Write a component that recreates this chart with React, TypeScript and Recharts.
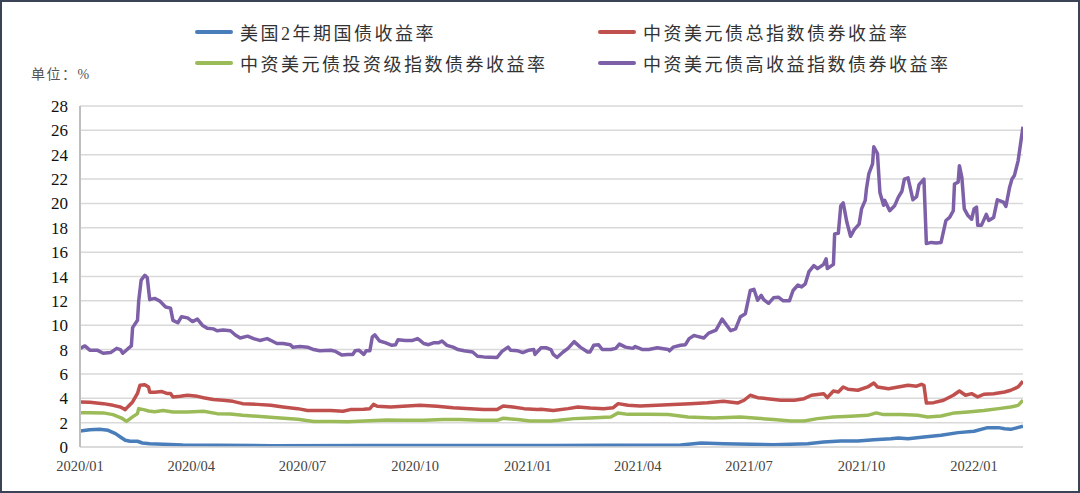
import React from 'react';
import { LineChart, Line, XAxis, YAxis, CartesianGrid } from 'recharts';

// x values are days since 2020-01-01
const quarterDays = [0, 91, 182, 274, 366, 456, 547, 639, 731];
const quarterLabels = ['2020/01', '2020/04', '2020/07', '2020/10', '2021/01', '2021/04', '2021/07', '2021/10', '2022/01'];
const yTicks = [0, 2, 4, 6, 8, 10, 12, 14, 16, 18, 20, 22, 24, 26, 28];

const seriesNames = [
  '美国2年期国债收益率',
  '中资美元债总指数债券收益率',
  '中资美元债投资级指数债券收益率',
  '中资美元债高收益指数债券收益率',
];
const COLORS = ['#4a7ebb', '#c0504d', '#9bbb59', '#7d60a8'];

const ust2y = [
  [0, 1.32], [8, 1.42], [16, 1.45], [23, 1.37], [29, 1.1], [33, 0.82], [37, 0.55], [41, 0.47],
  [47, 0.47], [51, 0.33], [57, 0.27], [68, 0.22], [84, 0.16], [112, 0.14], [156, 0.11], [237, 0.12],
  [319, 0.12], [385, 0.12], [431, 0.14], [491, 0.16], [508, 0.33], [526, 0.27], [567, 0.19],
  [595, 0.27], [608, 0.41], [622, 0.49], [636, 0.49], [649, 0.6], [663, 0.68], [669, 0.74],
  [677, 0.68], [690, 0.82], [704, 0.96], [718, 1.18], [731, 1.29], [742, 1.59], [751, 1.59],
  [756, 1.5], [761, 1.45], [771, 1.7],
];

const totalIdx = [
  [0, 3.7], [8, 3.67], [19, 3.56], [27, 3.42], [33, 3.29], [37, 3.07], [39, 3.29], [43, 3.7],
  [47, 4.4], [49, 5.07], [53, 5.12], [56, 4.93], [57, 4.5], [61, 4.5], [67, 4.55], [71, 4.4],
  [74, 4.4], [76, 4.1], [82, 4.16], [88, 4.25], [96, 4.16], [101, 4.05], [109, 3.9], [117, 3.84],
  [125, 3.75], [133, 3.56], [145, 3.5], [156, 3.42], [166, 3.29], [178, 3.15], [186, 3.0],
  [194, 3.0], [205, 3.0], [215, 2.93], [221, 3.07], [232, 3.1], [237, 3.15], [240, 3.5],
  [243, 3.34], [254, 3.29], [264, 3.34], [278, 3.42], [292, 3.34], [305, 3.23], [319, 3.15],
  [330, 3.07], [341, 3.07], [346, 3.37], [354, 3.29], [363, 3.15], [374, 3.07], [377, 3.1],
  [387, 3.0], [399, 3.15], [407, 3.29], [417, 3.2], [428, 3.15], [436, 3.23], [440, 3.56],
  [448, 3.42], [458, 3.37], [472, 3.42], [485, 3.48], [499, 3.56], [513, 3.64], [526, 3.75],
  [538, 3.62], [543, 3.84], [548, 4.25], [554, 4.05], [562, 3.97], [573, 3.84], [584, 3.84],
  [592, 3.97], [598, 4.25], [608, 4.38], [611, 4.05], [616, 4.6], [620, 4.52], [624, 4.93],
  [628, 4.74], [636, 4.66], [644, 4.93], [649, 5.26], [652, 4.93], [661, 4.79], [669, 4.93],
  [677, 5.07], [684, 4.99], [688, 5.15], [690, 5.07], [692, 3.62], [698, 3.64], [706, 3.84],
  [714, 4.25], [719, 4.6], [724, 4.25], [729, 4.38], [734, 4.11], [739, 4.33], [747, 4.38],
  [756, 4.52], [761, 4.66], [767, 4.93], [771, 5.4],
];

const igIdx = [
  [0, 2.82], [8, 2.82], [19, 2.8], [27, 2.66], [34, 2.38], [38, 2.1], [43, 2.47], [47, 2.74],
  [48, 3.15], [52, 3.07], [56, 2.96], [61, 2.9], [68, 3.0], [76, 2.88], [88, 2.88], [101, 2.93],
  [112, 2.74], [123, 2.71], [133, 2.6], [145, 2.52], [161, 2.41], [178, 2.27], [191, 2.1],
  [207, 2.1], [219, 2.08], [232, 2.14], [251, 2.22], [264, 2.19], [281, 2.19], [297, 2.25],
  [311, 2.25], [327, 2.19], [341, 2.19], [346, 2.36], [358, 2.25], [368, 2.14], [385, 2.14],
  [391, 2.19], [404, 2.33], [417, 2.38], [434, 2.47], [440, 2.8], [448, 2.68], [464, 2.68],
  [481, 2.66], [497, 2.47], [518, 2.38], [540, 2.47], [551, 2.38], [567, 2.25], [581, 2.14],
  [592, 2.14], [603, 2.33], [616, 2.47], [630, 2.52], [644, 2.6], [651, 2.8], [657, 2.66],
  [671, 2.66], [685, 2.6], [693, 2.47], [704, 2.55], [715, 2.8], [726, 2.88], [739, 3.0],
  [751, 3.15], [761, 3.29], [767, 3.42], [771, 3.84],
];

const hyIdx = [
  [0, 8.1], [4, 8.3], [8, 7.95], [14, 7.95], [19, 7.7], [25, 7.75], [30, 8.1], [33, 8.0],
  [35, 7.7], [39, 8.05], [42, 8.3], [43, 9.8], [47, 10.4], [48, 12.0], [50, 13.7], [53, 14.1],
  [55, 13.9], [57, 12.1], [61, 12.2], [65, 12.0], [70, 11.5], [74, 11.4], [76, 10.4], [80, 10.2],
  [83, 10.7], [88, 10.6], [92, 10.3], [96, 10.5], [100, 10.0], [104, 9.75], [109, 9.7],
  [112, 9.55], [117, 9.6], [123, 9.55], [127, 9.2], [131, 8.95], [137, 9.1], [142, 8.9],
  [147, 8.75], [153, 8.9], [157, 8.7], [161, 8.5], [166, 8.5], [172, 8.4], [174, 8.2],
  [180, 8.25], [186, 8.2], [191, 8.0], [196, 7.9], [205, 7.95], [209, 7.85], [214, 7.55],
  [219, 7.6], [223, 7.6], [225, 7.9], [228, 7.95], [232, 7.6], [234, 7.9], [237, 7.9],
  [239, 9.05], [241, 9.2], [245, 8.7], [250, 8.55], [255, 8.35], [258, 8.4], [260, 8.8],
  [266, 8.75], [272, 8.75], [276, 8.9], [278, 8.75], [281, 8.5], [285, 8.4], [289, 8.55],
  [293, 8.55], [296, 8.7], [300, 8.35], [305, 8.2], [309, 8.0], [314, 7.9], [321, 7.8],
  [325, 7.45], [330, 7.4], [341, 7.35], [345, 7.85], [350, 8.2], [352, 7.95], [358, 7.9],
  [362, 7.75], [367, 7.95], [371, 8.0], [372, 7.6], [377, 8.15], [381, 8.15], [385, 8.0],
  [387, 7.6], [390, 7.35], [395, 7.8], [399, 8.1], [404, 8.65], [409, 8.2], [415, 7.8],
  [417, 7.8], [420, 8.35], [424, 8.4], [427, 8.0], [434, 8.0], [438, 8.1], [441, 8.45],
  [446, 8.2], [452, 8.1], [454, 8.25], [460, 8.0], [465, 8.0], [472, 8.15], [481, 8.0],
  [482, 7.9], [485, 8.2], [491, 8.35], [495, 8.4], [498, 8.9], [502, 9.15], [504, 9.1],
  [510, 8.95], [514, 9.35], [520, 9.6], [525, 10.5], [532, 9.55], [536, 9.7], [540, 10.7],
  [544, 10.95], [548, 12.85], [551, 12.95], [554, 12.05], [557, 12.45], [559, 12.1],
  [563, 11.8], [567, 12.25], [571, 12.3], [575, 12.0], [580, 12.0], [583, 12.85], [587, 13.3],
  [590, 13.15], [593, 13.4], [596, 14.4], [600, 14.9], [603, 14.65], [608, 15.0], [610, 15.45],
  [611, 14.65], [616, 15.0], [617, 17.5], [620, 17.55], [622, 19.8], [624, 20.05], [627, 18.45],
  [630, 17.3], [633, 17.85], [637, 18.3], [639, 19.55], [642, 20.25], [643, 21.2], [645, 22.45],
  [648, 23.25], [649, 24.65], [652, 24.1], [654, 20.9], [657, 19.85], [658, 20.25], [662, 19.4],
  [666, 19.8], [669, 20.5], [672, 21.0], [674, 22.0], [677, 22.1], [681, 20.3], [684, 20.55],
  [686, 21.55], [690, 22.0], [692, 16.7], [696, 16.8], [700, 16.75], [704, 16.8], [708, 18.6],
  [711, 18.85], [714, 19.4], [715, 21.6], [718, 21.75], [719, 23.1], [721, 22.15], [723, 19.55],
  [726, 19.0], [729, 18.7], [731, 19.55], [733, 19.7], [734, 18.2], [737, 18.2], [741, 19.1],
  [743, 18.6], [747, 18.85], [750, 20.3], [755, 20.1], [757, 19.75], [760, 21.3], [762, 22.0],
  [764, 22.3], [767, 23.5], [769, 24.9], [771, 26.3],
];

const toRows = (pts: number[][]) => pts.map(([d, v]) => ({ d, v }));
const allSeries = [ust2y, totalIdx, igIdx, hyIdx].map(toRows);

const serif = '"Liberation Serif", "Times New Roman", serif';
const cjk = '"Liberation Serif", "Noto Sans CJK SC", serif';

const legendPos = [
  { x: 195, y: 32 },
  { x: 598, y: 32 },
  { x: 195, y: 63 },
  { x: 598, y: 63 },
];

const App = () => {
  return (
    <div style={{ position: 'absolute', left: 0, top: 0, width: 1080, height: 493, background: '#fff' }}>
      <LineChart
        width={1080}
        height={493}
        margin={{ top: 106, right: 57, bottom: 16, left: 20 }}
      >
        <CartesianGrid vertical={false} stroke="#d9d9d9" strokeWidth={1.5} />
        <XAxis
          type="number"
          dataKey="d"
          domain={[0, 771]}
          ticks={quarterDays}
          interval={0}
          tickFormatter={(d: number) => quarterLabels[quarterDays.indexOf(d)]}
          height={30}
          tickLine={false}
          tickSize={0}
          tickMargin={14}
          axisLine={{ stroke: '#d9d9d9', strokeWidth: 1.5 }}
          tick={{ fill: '#444', fontSize: 14.5, fontFamily: serif }}
          allowDataOverflow
        />
        <YAxis
          type="number"
          domain={[0, 28]}
          ticks={yTicks}
          interval={0}
          width={60}
          tickLine={false}
          tickSize={0}
          tickMargin={12}
          axisLine={{ stroke: '#bfbfbf', strokeWidth: 2 }}
          tick={{ fill: '#111', fontSize: 17, fontFamily: serif }}
        />
        {allSeries.map((rows, i) => (
          <Line
            key={seriesNames[i]}
            data={rows}
            dataKey="v"
            type="linear"
            stroke={COLORS[i]}
            strokeWidth={3.5}
            strokeLinejoin="round"
            dot={false}
            activeDot={false}
            isAnimationActive={false}
          />
        ))}
      </LineChart>

      {seriesNames.map((name, i) => (
        <div
          key={name}
          style={{
            position: 'absolute',
            left: legendPos[i].x,
            top: legendPos[i].y - 13,
            height: 26,
            display: 'flex',
            alignItems: 'center',
            whiteSpace: 'nowrap',
          }}
        >
          <span style={{ display: 'inline-block', width: 38, height: 4, borderRadius: 2, background: COLORS[i] }} />
          <span style={{ marginLeft: 7, fontFamily: cjk, fontSize: 18, letterSpacing: 2.5, color: '#333' }}>{name}</span>
        </div>
      ))}

      <div
        style={{
          position: 'absolute',
          left: 31,
          top: 63,
          fontFamily: cjk,
          fontSize: 14,
          letterSpacing: 1.5,
          color: '#555',
          whiteSpace: 'nowrap',
        }}
      >
        单位：%
      </div>

      <div
        style={{
          position: 'absolute',
          left: 0,
          top: 0,
          width: 1080,
          height: 493,
          boxSizing: 'border-box',
          border: '2px solid #3b4456',
          pointerEvents: 'none',
        }}
      />
    </div>
  );
};

export default App;
